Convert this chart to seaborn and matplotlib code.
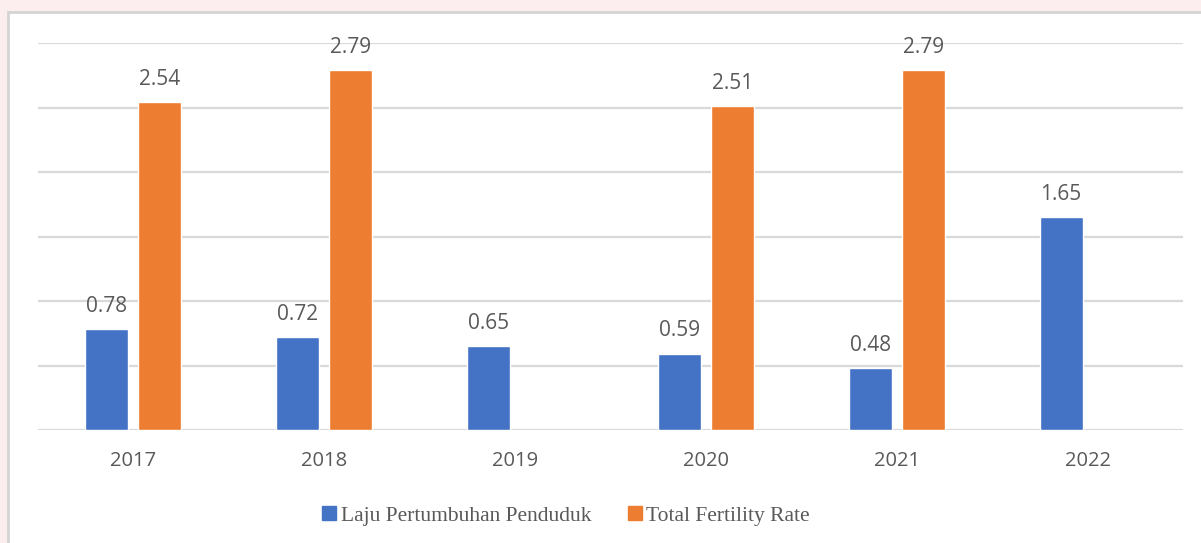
import numpy as np
import pandas as pd
import matplotlib.pyplot as plt
import matplotlib.patches as mpatches
import seaborn as sns

years = ['2017', '2018', '2019', '2020', '2021', '2022']
laju = [0.78, 0.72, 0.65, 0.59, 0.48, 1.65]
tfr = [2.54, 2.79, np.nan, 2.51, 2.79, np.nan]
series = ['Laju Pertumbuhan Penduduk', 'Total Fertility Rate']
colors = ['#4472C4', '#ED7D31']

df = pd.DataFrame({
    'year': years * 2,
    'value': laju + tfr,
    'series': [series[0]] * len(years) + [series[1]] * len(years),
}).dropna()

sns.set_style('white')
plt.rcParams['font.family'] = ['Open Sans', 'DejaVu Sans']

fig = plt.figure(figsize=(12.01, 5.43), dpi=100)
fig.patch.set_facecolor('#FCEEEF')
# white chart area with a thin grey border, drawn behind the axes
frame = mpatches.Rectangle((8 / 1201, -0.01), 1.0, 1.01 - 12 / 543,
                           transform=fig.transFigure, facecolor='white',
                           edgecolor='#D4D4D4', linewidth=2, zorder=-5)
fig.patches.append(frame)

ax = fig.add_axes([38 / 1201, 1 - 430 / 543, 1145 / 1201, 387 / 543])
ax.set_facecolor('none')
ax.set_zorder(1)

sns.barplot(data=df, x='year', y='value', hue='series', order=years,
            hue_order=series, palette=colors, width=0.555, gap=0.19,
            saturation=1, ax=ax, legend=False)

for cont in ax.containers:
    ax.bar_label(cont, fmt='%.2f', padding=9, fontsize=15, color='#595959')

ax.set_ylim(0, 3.0)
ax.set_xlim(-0.5, 5.5)
ax.set_yticks(np.arange(0, 3.01, 0.5))
ax.set_yticklabels([])
ax.yaxis.grid(True, color='#D9D9D9', linewidth=1.6)
ax.set_axisbelow(True)
for s in ax.spines.values():
    s.set_visible(False)
ax.tick_params(axis='x', length=0, pad=15, labelsize=14.5, labelcolor='#595959')
ax.tick_params(axis='y', length=0)
ax.set_xlabel('')
ax.set_ylabel('')

handles = [mpatches.Patch(color=c, label=l) for c, l in zip(colors, series)]
leg = fig.legend(handles=handles, loc='center', ncol=2, frameon=False,
                 bbox_to_anchor=(566 / 1201, 1 - 516 / 543),
                 prop={'family': 'Liberation Serif', 'size': 15.5},
                 handlelength=0.65, handleheight=0.65, handletextpad=0.2,
                 columnspacing=1.7)
for t in leg.get_texts():
    t.set_color('#595959')

fig.savefig('out.png', dpi=100, facecolor=fig.get_facecolor())
